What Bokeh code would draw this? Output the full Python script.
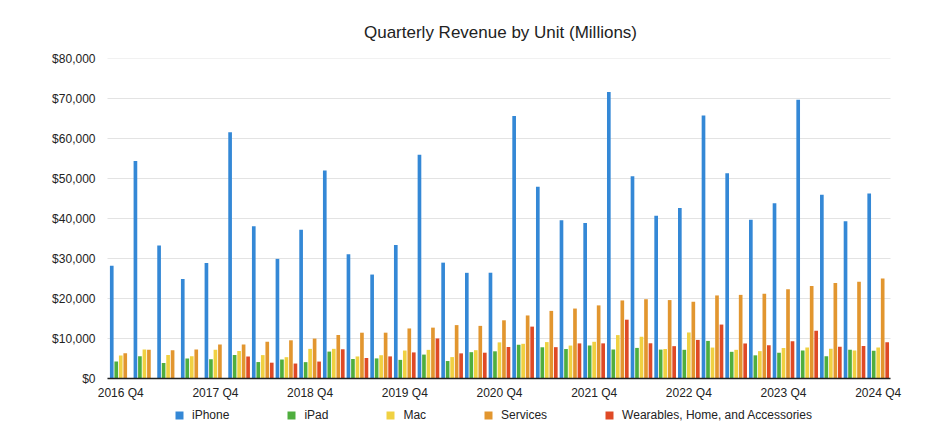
import math
from bokeh.plotting import figure
from bokeh.models import (ColumnDataSource, Range1d, FixedTicker, NumeralTickFormatter,
                          Legend, LegendItem)
from bokeh.core.properties import value
from bokeh.embed import file_html
from bokeh.resources import INLINE

NaN = float("nan")

quarters = ["2016 Q4", "2017 Q1", "2017 Q2", "2017 Q3", "2017 Q4", "2018 Q1", "2018 Q2", "2018 Q3",
            "2018 Q4", "2019 Q1", "2019 Q2", "2019 Q3", "2019 Q4", "2020 Q1", "2020 Q2", "2020 Q3",
            "2020 Q4", "2021 Q1", "2021 Q2", "2021 Q3", "2021 Q4", "2022 Q1", "2022 Q2", "2022 Q3",
            "2022 Q4", "2023 Q1", "2023 Q2", "2023 Q3", "2023 Q4", "2024 Q1", "2024 Q2", "2024 Q3",
            "2024 Q4"]

iphone = [28160, 54378, 33249, 24846, 28846, 61576, 38032, 29906, 37185, 51982, 31051, 25986,
          33362, 55957, 28962, 26418, 26444, 65597, 47938, 39570, 38868, 71628, 50570, 40665,
          42626, 65775, 51334, 39669, 43805, 69702, 45963, 39296, 46222]
ipad = [4255, 5533, 3889, 4969, 4831, 5862, 4113, 4741, 4089, 6729, 4872, 5023,
        4656, 5977, 4368, 6582, 6797, 8435, 7807, 7368, 8252, 7248, 7646, 7224,
        7174, 9396, 6670, 5791, 6443, 7023, 5559, 7162, 6950]
mac = [5739, 7244, 5844, 5592, 7170, 6895, 5848, 5330, 7411, 7416, 5513, 5820,
       6991, 7160, 5351, 7079, 9032, 8675, 9102, 8235, 9178, 10852, 10435, 7382,
       11508, 7735, 7168, 6840, 7614, 7780, 7451, 7009, 7744]
services = [6325, 7172, 7041, 7266, 8501, 8471, 9190, 9548, 9981, 10875, 11450, 11455,
            12511, 12715, 13348, 13156, 14549, 15761, 16901, 17486, 18277, 19516, 19821, 19604,
            19188, 20766, 20907, 21213, 22314, 23117, 23867, 24213, 24972]
wearables = [NaN, NaN, NaN, NaN, NaN, 5489, 3954, 3740, 4234, 7308, 5129, 5525,
             6520, 10010, 6284, 6450, 7876, 12971, 7836, 8775, 8785, 14701, 8806, 8084,
             9650, 13482, 8757, 8284, 9322, 11953, 7913, 8097, 9042]

series_names = ["iPhone", "iPad", "Mac", "Services", "Wearables, Home, and Accessories"]
series_values = [iphone, ipad, mac, services, wearables]
colors = ["#3488d6", "#4fae3e", "#f0d142", "#e2962f", "#df4a26"]

y_ticks = [0, 10000, 20000, 30000, 40000, 50000, 60000, 70000, 80000]
x_tick_idx = list(range(0, len(quarters), 4))
x_tick_labels = [quarters[i] for i in x_tick_idx]

FONT = "Liberation Sans"
PLOT_X0, PLOT_X1 = -0.56, 32.52   # extent of the drawn plot area (grid / baseline)

# frame is a bit wider and extends below zero to host the tick labels and the legend
p = figure(frame_width=812, frame_height=366, output_backend="svg", toolbar_location=None,
           x_range=Range1d(-1.109, 33.196), y_range=Range1d(-11500, 80000),
           x_axis_location=None,
           min_border_left=94, min_border_right=18, min_border_top=58, min_border_bottom=0,
           title="Quarterly Revenue by Unit (Millions)")
p.outline_line_color = None
p.background_fill_color = "white"
p.border_fill_color = "white"

p.title.align = "center"
p.title.text_font = FONT
p.title.text_font_size = "17px"
p.title.text_font_style = "normal"
p.title.text_color = "#222222"
p.title.standoff = 34

# gridlines
p.segment(x0=[PLOT_X0] * len(y_ticks), x1=[PLOT_X1] * len(y_ticks), y0=y_ticks, y1=y_ticks,
          line_color="#e3e3e3", line_width=1)

xs = list(range(len(quarters)))
offset = 0.19
bw = 0.155
renderers = []
for k, (name, vals, col) in enumerate(zip(series_names, series_values, colors)):
    src = ColumnDataSource(dict(x=[i + (k - 2) * offset for i in xs], top=vals))
    r = p.vbar(x="x", top="top", width=bw, source=src, fill_color=col, line_color=None)
    renderers.append((name, r))

# baseline and category labels
p.segment(x0=[PLOT_X0], x1=[PLOT_X1], y0=[0], y1=[0], line_color="#222222", line_width=1.5)
lab_src = ColumnDataSource(dict(x=x_tick_idx, y=[0] * len(x_tick_idx), t=x_tick_labels))
p.text(x="x", y="y", text="t", source=lab_src, y_offset=7, text_align="center",
       text_baseline="top", text_font=value(FONT), text_font_size="12px", text_color="#222222")

p.yaxis.ticker = FixedTicker(ticks=y_ticks)
p.yaxis.formatter = NumeralTickFormatter(format="$0,0")
p.yaxis.major_tick_line_color = None
p.yaxis.minor_tick_line_color = None
p.yaxis.major_tick_out = 0
p.yaxis.major_tick_in = 0
p.yaxis.minor_tick_out = 0
p.yaxis.axis_line_color = None
p.yaxis.major_label_text_font = FONT
p.yaxis.major_label_text_font_size = "12px"
p.yaxis.major_label_text_color = "#222222"
p.yaxis.major_label_standoff = -1

p.xgrid.grid_line_color = None
p.ygrid.grid_line_color = None

legend = Legend(items=[LegendItem(label=n, renderers=[r]) for n, r in renderers],
                orientation="horizontal", location=(80, 2),
                label_text_font=FONT, label_text_font_size="12px", label_text_color="#222222",
                glyph_width=10, glyph_height=10, label_height=12, label_standoff=8, spacing=57,
                padding=0, margin=0, border_line_color=None, background_fill_alpha=0)
p.add_layout(legend, "center")

open("out.html", "w").write(file_html(p, INLINE))
